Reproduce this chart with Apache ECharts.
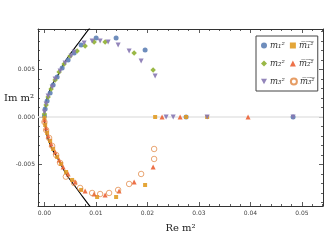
<!DOCTYPE html>
<html><head><meta charset="utf-8">
<script src="https://cdn.jsdelivr.net/npm/echarts@6/dist/echarts.min.js"></script>
<style>html,body{margin:0;padding:0;background:#fff}#c{width:327px;height:246px}</style>
</head><body><div id="c"></div>
<script>
// tick values
var xTicks = [0, 0.01, 0.02, 0.03, 0.04, 0.05];
var xTickLabels = ['0.00', '0.01', '0.02', '0.03', '0.04', '0.05'];
var yTicks = [-0.005, 0, 0.005];
var yTickLabels = ['-0.005', '0.000', '0.005'];
var xMinorTicks = [-0.002,0.002,0.004,0.006,0.008,0.012,0.014,0.016,0.018,0.022,0.024,0.026,0.028,0.032,0.034,0.036,0.038,0.042,0.044,0.046,0.048,0.052,0.054];
var yMinorTicks = [-0.009,-0.008,-0.007,-0.006,-0.004,-0.003,-0.002,-0.001,0.001,0.002,0.003,0.004,0.006,0.007,0.008,0.009];
var XMIN = -0.00125, XMAX = 0.0541, YMIN = -0.00937, YMAX = 0.00926;

// series data [Re, Im]
var m1 = [[0.0000,0.0001],[0.00014,0.00084],[0.00052,0.00168],[0.00111,0.00253],[0.00169,0.00337],[0.00247,0.00421],[0.00344,0.00516],[0.0046,0.006],[0.00577,0.00674],[0.00713,0.00758],[0.01004,0.00832],[0.01392,0.00832],[0.01955,0.00705],[0.02751,0],[0.04829,0]];
var m2 = [[0,0.00032],[0.00033,0.00126],[0.00072,0.00211],[0.0013,0.00295],[0.00208,0.00389],[0.00285,0.00474],[0.00382,0.00558],[0.00499,0.00642],[0.00635,0.00695],[0.0079,0.00747],[0.00965,0.00789],[0.01179,0.00789],[0.01742,0.00674],[0.02111,0.00495]];
var m3 = [[0,0.00053],[0.00033,0.00137],[0.00072,0.00221],[0.0015,0.00316],[0.00208,0.004],[0.00305,0.00484],[0.00402,0.00568],[0.00518,0.00642],[0.00577,0.00684],[0.00771,0.00779],[0.00926,0.008],[0.01082,0.008],[0.01237,0.00789],[0.01431,0.00758],[0.01645,0.00695],[0.01878,0.00589],[0.0215,0.00432],[0.02363,0],[0.025,0],[0.0316,0],[0.04829,0]];
var m1bar = [[0,-0.00011],[0.00014,-0.00084],[0.00052,-0.00168],[0.00111,-0.00253],[0.00169,-0.00337],[0.00247,-0.00421],[0.00324,-0.00495],[0.00421,-0.00579],[0.00538,-0.00663],[0.00713,-0.00768],[0.01023,-0.00842],[0.01392,-0.00842],[0.01955,-0.00716],[0.0215,0],[0.02751,0],[0.0316,0]];
var m2bar = [[0,-0.00032],[0.00033,-0.00116],[0.00072,-0.002],[0.0013,-0.00284],[0.00208,-0.00368],[0.00285,-0.00453],[0.00363,-0.00526],[0.0046,-0.006],[0.00596,-0.00684],[0.0079,-0.00779],[0.00965,-0.00811],[0.01179,-0.00821],[0.0145,-0.00779],[0.01742,-0.00684],[0.02111,-0.00526],[0.02285,0],[0.02635,0],[0.03955,0]];
var m3bar = [[0,-0.00053],[0.00033,-0.00137],[0.00091,-0.00221],[0.0015,-0.00305],[0.00227,-0.004],[0.00305,-0.00484],[0.00416,-0.00628],[0.00577,-0.00695],[0.00693,-0.00747],[0.00926,-0.008],[0.01082,-0.00811],[0.01256,-0.008],[0.01431,-0.00768],[0.01645,-0.00705],[0.01878,-0.006],[0.0213,-0.00442],[0.0213,-0.00337]];
// boundary curve
var curve = [[0.0093,-0.0097],[0.0087,-0.0093],[0.0069,-0.008],[0.0054,-0.0069],[0.0042,-0.006],[0.0031,-0.0049],[0.0023,-0.0041],[0.0015,-0.0034],[0.0009,-0.0026],[0.00043,-0.0018],[0.00014,-0.00095],[0,0],[0.00014,0.00095],[0.00043,0.0018],[0.0009,0.0026],[0.0015,0.0034],[0.0023,0.0041],[0.0031,0.0049],[0.0042,0.006],[0.0054,0.0069],[0.0069,0.008],[0.0087,0.0093],[0.0093,0.0097]];

var names = ['m\u2081\u00b2', 'm\u0305\u2081\u0305\u00b2\u0305', 'm\u2082\u00b2', 'm\u0305\u2082\u0305\u00b2\u0305', 'm\u2083\u00b2', 'm\u0305\u2083\u0305\u00b2\u0305'];

var chart = echarts.init(document.getElementById('c'));
var tickFont = {fontSize: 6, color: '#444', fontFamily: 'DejaVu Sans'};
function xAx(pos, vals, len, showLine, showLabel, extra) {
  return Object.assign({type: 'value', min: XMIN, max: XMAX, position: pos,
    axisLine: {show: showLine, onZero: false, lineStyle: {color: '#333', width: 1}},
    axisTick: {show: true, inside: true, length: len, customValues: vals, lineStyle: {color: '#333', width: 0.8}},
    axisLabel: showLabel ? {show: true, customValues: xTicks, formatter: function (v) { var i = xTicks.indexOf(v); return i >= 0 ? xTickLabels[i] : ''; }, margin: 4, fontSize: tickFont.fontSize, color: tickFont.color, fontFamily: tickFont.fontFamily} : {show: false},
    splitLine: {show: false}}, extra || {});
}
function yAx(pos, vals, len, showLine, showLabel) {
  return {type: 'value', min: YMIN, max: YMAX, position: pos,
    axisLine: {show: showLine, onZero: false, lineStyle: {color: '#333', width: 1}},
    axisTick: {show: true, inside: true, length: len, customValues: vals, lineStyle: {color: '#333', width: 0.8}},
    axisLabel: showLabel ? {show: true, customValues: yTicks, formatter: function (v) { var i = yTicks.indexOf(v); return i >= 0 ? yTickLabels[i] : ''; }, margin: 3, fontSize: tickFont.fontSize, color: tickFont.color, fontFamily: tickFont.fontFamily} : {show: false},
    splitLine: {show: false}};
}
function sc(name, data, symbol, color, size, rot) {
  var hollow = symbol === 'hollow';
  return {type: 'scatter', name: name, data: data, symbol: hollow ? 'circle' : symbol, symbolSize: size, symbolRotate: rot || 0,
    xAxisIndex: 0, yAxisIndex: 0, z: hollow ? 4 : 3,
    itemStyle: hollow ? {color: 'rgba(255,255,255,0)', borderColor: color, borderWidth: 0.9} : {color: color, opacity: 0.9}};
}
var legendData = names.map(function (n, i) {
  return i === 4 ? {name: n, icon: 'path://M0,0L10,0L5,9Z'} : {name: n};
});
chart.setOption({
  animation: false,
  grid: {left: 38, right: 4, top: 29, bottom: 40, containLabel: false},
  xAxis: [
    xAx('bottom', xTicks, 4, true, true, {name: 'Re m\u00b2', nameLocation: 'middle', nameGap: 17,
      nameTextStyle: {fontFamily: 'DejaVu Serif', fontSize: 10, color: '#222', padding: [0, 0, 0, 0]}}),
    xAx('bottom', xMinorTicks, 2, false, false),
    xAx('top', xTicks, 4, true, false),
    xAx('top', xMinorTicks, 2, false, false)
  ],
  yAxis: [
    yAx('left', yTicks, 4, true, true),
    yAx('left', yMinorTicks, 2, false, false),
    yAx('right', yTicks, 4, true, false),
    yAx('right', yMinorTicks, 2, false, false)
  ],
  graphic: [{type: 'text', left: 4, top: 93, style: {text: 'Im m\u00b2', font: '10px "DejaVu Serif"', fill: '#222'}}],
  legend: {
    data: legendData, left: 256, top: 36, width: 60, orient: 'horizontal', itemGap: 5,
    itemWidth: 6, itemHeight: 6, padding: [3, 3, 3, 5],
    backgroundColor: '#fff', borderColor: '#444', borderWidth: 1,
    textStyle: {fontFamily: 'DejaVu Serif', fontStyle: 'italic', fontSize: 8.5, color: '#333', lineHeight: 13, padding: [0, 0, 0, -2]}
  },
  series: [
    {type: 'line', data: curve, smooth: true, showSymbol: false, symbol: 'none', silent: true, z: 2,
      lineStyle: {color: '#000', width: 1.1}, xAxisIndex: 0, yAxisIndex: 0,
      markLine: {silent: true, symbol: 'none', label: {show: false}, lineStyle: {color: '#e4e4e4', width: 1.6, type: 'solid'}, data: [{yAxis: 0}], z: 1}},
    sc(names[0], m1, 'circle', '#5E81B5', 5),
    sc(names[1], m1bar, 'rect', '#E19C24', 4),
    sc(names[2], m2, 'diamond', '#8FB032', 5.5),
    sc(names[3], m2bar, 'triangle', '#EB6235', 5),
    sc(names[4], m3, 'triangle', '#8778B3', 5, 180),
    sc(names[5], m3bar, 'hollow', '#E0843F', 5.5)
  ]
});
</script></body></html>
